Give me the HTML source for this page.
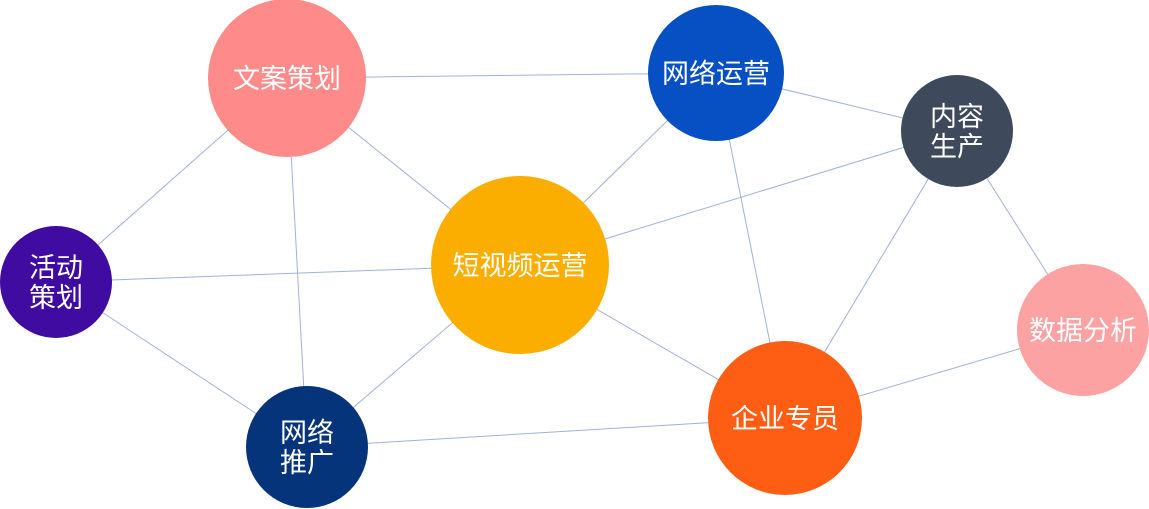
<!DOCTYPE html>
<html><head><meta charset="utf-8"><style>
html,body{margin:0;padding:0;background:#fff;width:1149px;height:509px;overflow:hidden}
text{font-family:"Liberation Sans","Noto Sans CJK SC",sans-serif;fill:#fff;text-anchor:middle}
</style></head><body>
<svg width="1149" height="509" viewBox="0 0 1149 509">
<g stroke="#9fb2d4" stroke-width="1">
<line x1="287" y1="78" x2="716" y2="73"/>
<line x1="716" y1="73" x2="957" y2="131"/>
<line x1="287" y1="78" x2="56" y2="282"/>
<line x1="287" y1="78" x2="520" y2="265"/>
<line x1="287" y1="78" x2="307" y2="447"/>
<line x1="56" y1="282" x2="520" y2="265"/>
<line x1="56" y1="282" x2="307" y2="447"/>
<line x1="520" y1="265" x2="307" y2="447"/>
<line x1="520" y1="265" x2="716" y2="73"/>
<line x1="520" y1="265" x2="957" y2="131"/>
<line x1="520" y1="265" x2="785" y2="418"/>
<line x1="716" y1="73" x2="785" y2="418"/>
<line x1="957" y1="131" x2="785" y2="418"/>
<line x1="957" y1="131" x2="1083" y2="330"/>
<line x1="785" y1="418" x2="1083" y2="330"/>
<line x1="307" y1="447" x2="785" y2="418"/>
</g>
<circle cx="287" cy="78" r="79" fill="#fe8a89"/>
<circle cx="716" cy="73" r="68" fill="#0650c4"/>
<circle cx="957" cy="131" r="56" fill="#3e4a5c"/>
<circle cx="56" cy="282" r="56" fill="#3f0ba0"/>
<circle cx="520" cy="265" r="89" fill="#fbad00"/>
<circle cx="1083" cy="330" r="66" fill="#fca2a2"/>
<circle cx="307" cy="447" r="61" fill="#05347a"/>
<circle cx="785" cy="418" r="77" fill="#fe5e14"/>
<g font-size="27">
<text x="287" y="88">文案策划</text>
<text x="716" y="83">网络运营</text>
<text x="957" y="126">内容</text>
<text x="957" y="156">生产</text>
<text x="56" y="277">活动</text>
<text x="56" y="307">策划</text>
<text x="520" y="275">短视频运营</text>
<text x="1083" y="340">数据分析</text>
<text x="307" y="442">网络</text>
<text x="307" y="472">推广</text>
<text x="785" y="428">企业专员</text>
</g>
</svg>
</body></html>
